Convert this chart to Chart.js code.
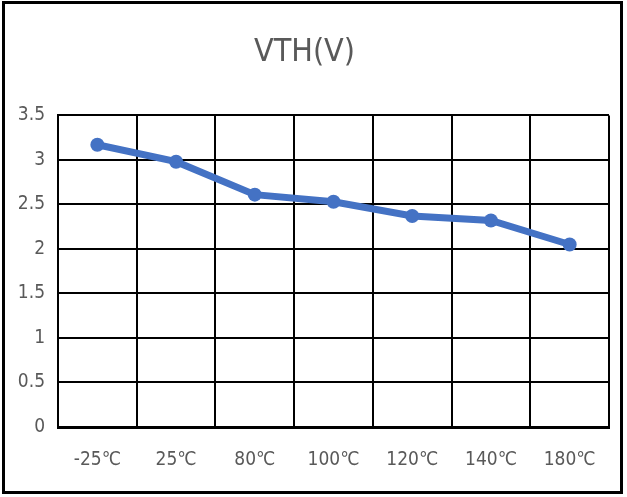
<!DOCTYPE html>
<html>
<head>
<meta charset="utf-8">
<script src="https://cdn.jsdelivr.net/npm/chart.js@4/dist/chart.umd.min.js"></script>
<style>
  html, body { margin: 0; padding: 0; background: #fff; }
  #wrap { position: relative; width: 627px; height: 497px; }
  #frame { position: absolute; left: 2px; top: 1px; width: 615px; height: 487px; border: 3px solid #000; pointer-events: none; }
</style>
</head>
<body>
<div id="wrap">
  <canvas id="myChart" width="627" height="497"></canvas>
  <div id="frame"></div>
</div>
<script>
var temperaturas = ["-25℃", "25℃", "80℃", "100℃", "120℃", "140℃", "180℃"];
var vth = [3.17, 2.98, 2.61, 2.53, 2.37, 2.32, 2.05];
var ejeY = { min: 0, max: 3.5, paso: 0.5 };

var fuente = "'Liberation Sans Narrow', 'DejaVu Sans Condensed', 'Roboto', sans-serif";
var gris = "#595959";

var ctx = document.getElementById("myChart").getContext("2d");
var chart = new Chart(ctx, {
  type: "line",
  data: {
    labels: temperaturas,
    datasets: [
      {
        data: vth,
        borderColor: "#4472C4",
        backgroundColor: "#4472C4",
        borderWidth: 7,
        pointRadius: 7,
        pointBorderWidth: 0,
        tension: 0,
      },
    ],
  },
  options: {
    responsive: false,
    animation: false,
    layout: { padding: { left: 0, right: 18, top: 0, bottom: 0 } },
    scales: {
      x: {
        offset: true,
        grid: { offset: true, color: "#000", lineWidth: 2, drawTicks: false },
        border: { color: "#000", width: 3 },
        ticks: { color: gris, font: { family: fuente, size: 19 }, padding: 22, maxRotation: 0 },
        afterFit: (s) => { s.height = 70; },
      },
      y: {
        min: ejeY.min,
        max: ejeY.max,
        grid: { color: "#000", lineWidth: 2, drawTicks: false },
        border: { color: "#000", width: 2 },
        ticks: {
          stepSize: ejeY.paso,
          color: gris,
          font: { family: fuente, size: 19 },
          padding: 13,
          callback: (v) => String(v),
        },
        afterFit: (s) => { s.width = 58; },
      },
    },
    plugins: {
      title: {
        display: true,
        text: "VTH(V)",
        color: gris,
        font: { family: fuente, size: 32, weight: "normal" },
        padding: { top: 33, bottom: 44 },
      },
      legend: { display: false },
      tooltip: { enabled: false },
    },
  },
});
</script>
</body>
</html>
